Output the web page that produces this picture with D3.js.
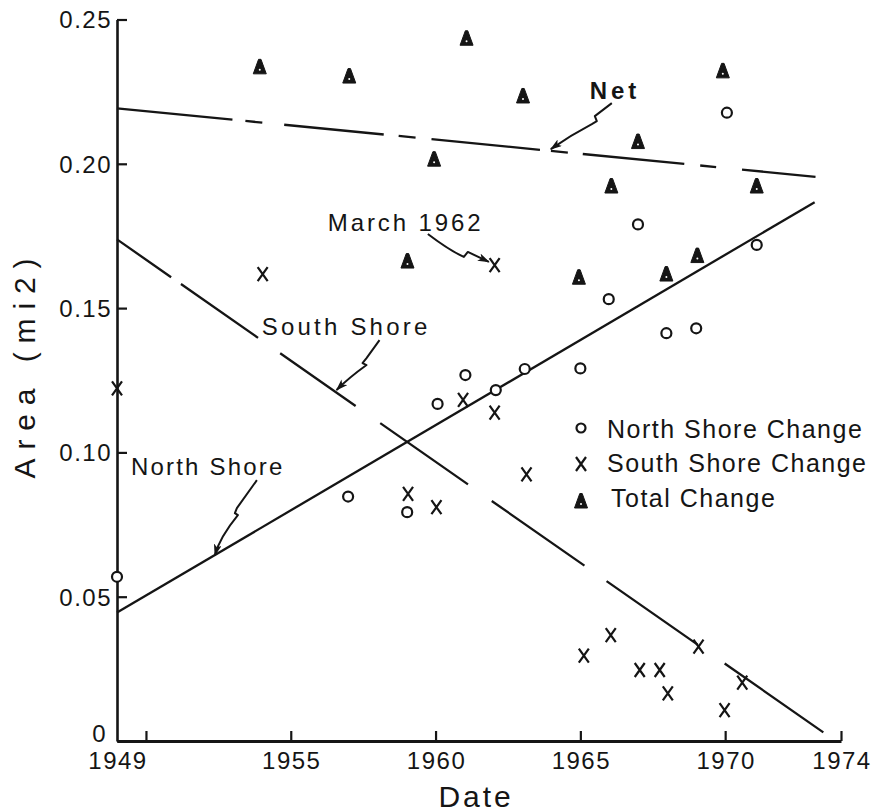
<!DOCTYPE html>
<html><head><meta charset="utf-8">
<script src="https://cdn.jsdelivr.net/npm/d3@7"></script>
<style>
body{margin:0;background:#fff}
svg{display:block;background:#fff}
text{font-family:"Liberation Sans",Arial,sans-serif;fill:#151515;font-size:24px;letter-spacing:1.5px}
.big{font-size:30px;letter-spacing:2.9px}
.leg{font-size:25px;letter-spacing:1.5px}
.net{font-weight:bold}
</style></head><body>
<svg id="c" width="877" height="812"></svg>
<script>
// ---- data ----
const northYears  = [1949, 1956.98, 1959.02, 1960.07, 1961.03, 1962.08, 1963.08, 1965.0, 1965.98, 1966.99, 1967.97, 1969.0, 1970.06, 1971.09];
const northValues = [0.0569, 0.0847, 0.0793, 0.1168, 0.1268, 0.1216, 0.1289, 0.1291, 0.1531, 0.1790, 0.1413, 0.1430, 0.2177, 0.1719];

const southYears  = [1949, 1954.03, 1962.04, 1959.05, 1960.03, 1960.95, 1962.04, 1963.14, 1965.12, 1966.05, 1967.05, 1967.74, 1968.02, 1969.08, 1969.98, 1970.59];
const southValues = [0.1222, 0.1618, 0.1649, 0.0856, 0.0810, 0.1182, 0.1138, 0.0924, 0.0296, 0.0367, 0.0246, 0.0246, 0.0165, 0.0327, 0.0107, 0.0202];

const totalYears  = [1953.93, 1957.02, 1961.07, 1963.02, 1959.95, 1959.03, 1964.95, 1969.92, 1966.99, 1966.07, 1971.09, 1967.97, 1969.04];
const totalValues = [0.2336, 0.2304, 0.2435, 0.2235, 0.2016, 0.1663, 0.1607, 0.2322, 0.2077, 0.1923, 0.1923, 0.1618, 0.1682];

// fitted trend lines (end points)
const netLineYears    = [1949, 1973.12];
const netLineValues   = [0.2192, 0.1955];
const southLineYears  = [1949, 1973.39];
const southLineValues = [0.1738, 0.0030];
const northLineYears  = [1949, 1973.09];
const northLineValues = [0.0445, 0.1867];

// axes
const xTickYears  = [1950, 1955, 1960, 1965, 1970, 1974];
const xLabelYears = [1949, 1955, 1960, 1965, 1970, 1974];
const yTicks      = [0, 0.05, 0.10, 0.15, 0.20, 0.25];
const yTickLabels = ["0", "0.05", "0.10", "0.15", "0.20", "0.25"];

// annotations
const annoTexts      = ["Net", "March 1962", "South Shore", "North Shore"];
const annoTextYears  = [1965.32, 1956.28, 1954.0, 1949.48];
const annoTextValues = [0.2224, 0.1767, 0.1407, 0.0922];
const annoTipYears   = [1963.98, 1961.84, 1956.58, 1952.38];
const annoTipValues  = [0.2051, 0.1660, 0.1216, 0.0644];

const legendLabels = ["North Shore Change", "South Shore Change", "Total Change"];

// ---- drawing ----
const svg = d3.select("#c");
const x = d3.scaleLinear().domain([1949, 1974]).range([117, 841]);
const y = d3.scaleLinear().domain([0, 0.25]).range([741, 19.5]);
const ink = "#151515";

// arrow marker
svg.append("defs").append("marker")
  .attr("id", "ah").attr("viewBox", "0 0 12 8").attr("refX", 11).attr("refY", 4)
  .attr("markerWidth", 12).attr("markerHeight", 8).attr("markerUnits", "userSpaceOnUse")
  .attr("orient", "auto")
  .append("path").attr("d", "M0,0 L12,4 L0,8 L3,4 Z").attr("fill", ink);

// x axis
const gx = svg.append("g").attr("transform", `translate(0,${y(0)})`)
  .call(d3.axisBottom(x).tickValues(xTickYears).tickSizeInner(-10).tickSizeOuter(0).tickFormat(""));
gx.select(".domain").attr("stroke", ink).attr("stroke-width", 3);
gx.selectAll(".tick line").attr("stroke", ink).attr("stroke-width", 2.2);

svg.append("g").selectAll("text").data(xLabelYears).join("text")
  .attr("x", d => x(d) + 1).attr("y", 769).attr("text-anchor", "middle").text(d => d);

// y axis
const gy = svg.append("g").attr("transform", `translate(${x(1949)},0)`)
  .call(d3.axisLeft(y).tickValues(yTicks).tickSizeInner(-10).tickSizeOuter(0).tickPadding(5)
    .tickFormat((d, i) => yTickLabels[i]));
gy.select(".domain").attr("stroke", ink).attr("stroke-width", 2.6);
gy.selectAll(".tick line").attr("stroke", ink).attr("stroke-width", 2.2);
gy.selectAll(".tick text").attr("fill", ink).attr("dy", (d, i) => i === 0 ? "0em" : "0.35em")
  .attr("x", (d, i) => i === 0 ? -10 : -5);

// axis titles
svg.append("text").attr("class", "big").attr("x", 476).attr("y", 807)
  .attr("text-anchor", "middle").text("Date");
svg.append("text").attr("class", "big")
  .attr("transform", "translate(35,367) rotate(-90)")
  .attr("text-anchor", "middle").attr("textLength", 223).attr("lengthAdjust", "spacing")
  .text("Area (mi2)");

// trend lines
const line = d3.line().x(d => x(d[0])).y(d => y(d[1]));
const zip = (a, b) => a.map((v, i) => [v, b[i]]);

svg.append("path").datum(zip(netLineYears, netLineValues)).attr("d", line)
  .attr("fill", "none").attr("stroke", ink).attr("stroke-width", 2.3)
  .attr("stroke-dasharray", "116,13,17,22,100,15,17,16,109,11,17,15,102,16,16,26,300");
svg.append("path").datum(zip(southLineYears, southLineValues)).attr("d", line)
  .attr("fill", "none").attr("stroke", ink).attr("stroke-width", 2.3)
  .attr("stroke-dasharray", "66,12,94,27,92,30,107,29,113,27,111,33,200");
svg.append("path").datum(zip(northLineYears, northLineValues)).attr("d", line)
  .attr("fill", "none").attr("stroke", ink).attr("stroke-width", 2.3);

// marker shapes
const triPath = "M-1.2,-7.5 L1.2,-7.5 L6.5,7 L-6.5,7 Z";
const xPath = "M-5,-7 L5,7 M5,-7 L-5,7";

function drawTri(g) {
  g.append("path").attr("d", triPath).attr("fill", ink).attr("stroke", ink)
    .attr("stroke-width", 1).attr("stroke-linejoin", "round");
  g.append("circle").attr("cx", 0).attr("cy", 3).attr("r", 1).attr("fill", "#fff");
}

// South shore X
svg.append("g").selectAll("path").data(zip(southYears, southValues)).join("path")
  .attr("transform", d => `translate(${x(d[0])},${y(d[1])})`)
  .attr("d", xPath).attr("fill", "none").attr("stroke", ink).attr("stroke-width", 2.2);

// North shore circles
svg.append("g").selectAll("circle").data(zip(northYears, northValues)).join("circle")
  .attr("cx", d => x(d[0])).attr("cy", d => y(d[1])).attr("r", 5)
  .attr("fill", "#fff").attr("stroke", ink).attr("stroke-width", 2.2);

// Total triangles
svg.append("g").selectAll("g").data(zip(totalYears, totalValues)).join("g")
  .attr("transform", d => `translate(${x(d[0])},${y(d[1])})`)
  .each(function () { drawTri(d3.select(this)); });

// annotations
const annoSpacing = [4, 2.9, 3.2, 2.2];
const arrowShapes = [
  [[61,-46],[44,-33],[46,-28],[41,-25],[20,-14]],
  [[-61,-28],[-40,-12],[-25,-5],[-21,-10],null],
  [[43,-50],[30,-32],[26,-27],[30,-25],[12,-12]],
  [[42,-75],[22,-47],[20,-42],[23,-40],[5,-18]]
];
annoTexts.forEach((t, i) => {
  svg.append("text").attr("class", i === 0 ? "net" : null)
    .style("letter-spacing", annoSpacing[i] + "px")
    .attr("x", x(annoTextYears[i])).attr("y", y(annoTextValues[i])).text(t);
  const tx = x(annoTipYears[i]), ty = y(annoTipValues[i]);
  const s = arrowShapes[i];
  const p = d3.path();
  if (i === 1) {
    p.moveTo(tx + s[0][0], ty + s[0][1]);
    p.quadraticCurveTo(tx + s[1][0], ty + s[1][1], tx + s[2][0], ty + s[2][1]);
    p.lineTo(tx + s[3][0], ty + s[3][1]);
    p.lineTo(tx, ty);
  } else {
    p.moveTo(tx + s[0][0], ty + s[0][1]);
    p.lineTo(tx + s[1][0], ty + s[1][1]);
    p.lineTo(tx + s[2][0], ty + s[2][1]);
    p.lineTo(tx + s[3][0], ty + s[3][1]);
    p.quadraticCurveTo(tx + s[4][0], ty + s[4][1], tx, ty);
  }
  svg.append("path").attr("d", p.toString()).attr("fill", "none").attr("stroke", ink)
    .attr("stroke-width", 2).attr("stroke-linejoin", "round").attr("marker-end", "url(#ah)");
});

// legend
const legMarkY = [428, 464, 501];
const legTextY = [438, 472, 507];
const leg = svg.append("g");
legendLabels.forEach((t, i) => {
  const g = leg.append("g").attr("transform", `translate(581,${legMarkY[i]})`);
  if (i === 0) g.append("circle").attr("r", 4.5).attr("fill", "#fff").attr("stroke", ink).attr("stroke-width", 2.2);
  else if (i === 1) g.append("path").attr("d", xPath).attr("fill", "none").attr("stroke", ink).attr("stroke-width", 2.2);
  else drawTri(g);
  leg.append("text").attr("class", "leg").attr("x", i === 2 ? 611 : 607).attr("y", legTextY[i]).text(t);
});
</script>
</body></html>
